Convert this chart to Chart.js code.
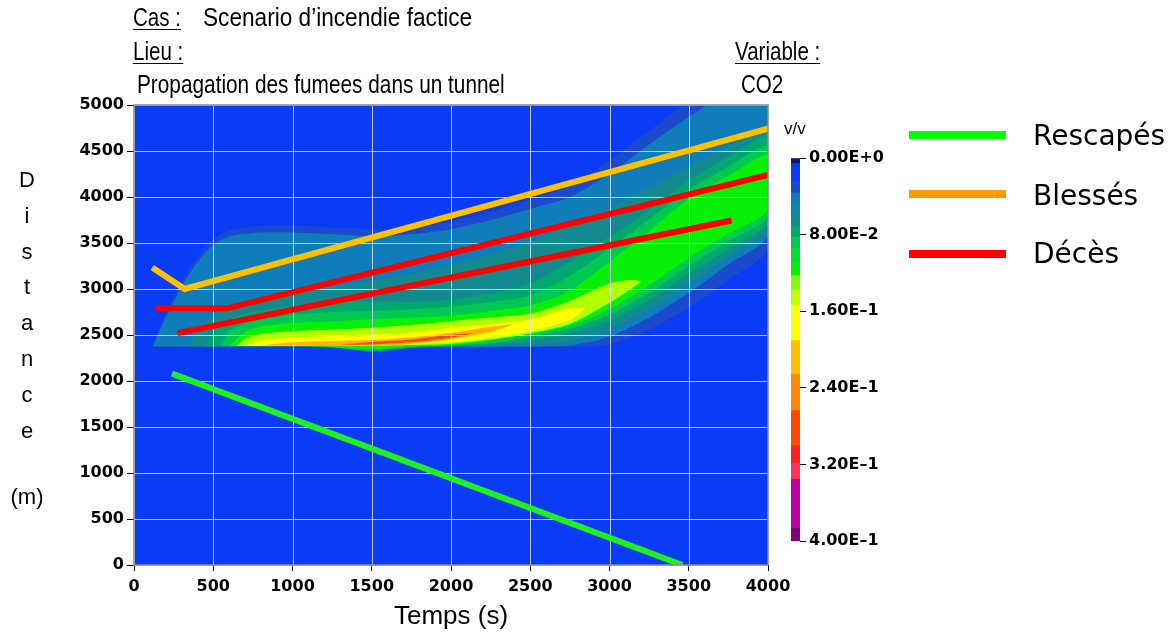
<!DOCTYPE html>
<html>
<head>
<meta charset="utf-8">
<script src="https://cdn.jsdelivr.net/npm/chart.js@4.4.1/dist/chart.umd.min.js"></script>
<style>
  html, body { margin: 0; padding: 0; background: #fff; }
  #page { position: relative; width: 1175px; height: 633px; overflow: hidden; color: #000; font-family: "Liberation Sans", Arial, sans-serif; }
  canvas { position: absolute; }
  .t { position: absolute; white-space: nowrap; }
  .head { font-size: 26px; line-height: 30px; transform-origin: 0 50%; transform: scaleX(0.79); }
  .u { text-decoration: underline; text-decoration-thickness: 1px; text-underline-offset: 3px; }
  .sw { position: absolute; left: 909px; width: 97px; height: 8px; }
  .leg { font-family: "DejaVu Sans", sans-serif; font-size: 28px; line-height: 34px; left: 1033px; }
</style>
</head>
<body>
<div id="page">
  <canvas id="main" width="1175" height="633" style="left:0;top:0"></canvas>
  <canvas id="bar" width="150" height="440" style="left:760px;top:120px"></canvas>

  <div class="t head u" style="left:133px;top:2px">Cas :</div>
  <div class="t head" style="left:203px;top:2px;transform:scaleX(0.87)">Scenario d’incendie factice</div>
  <div class="t head u" style="left:133px;top:36px">Lieu :</div>
  <div class="t head u" style="left:735px;top:36px">Variable :</div>
  <div class="t head" style="left:137px;top:69px;transform:scaleX(0.8)">Propagation des fumees dans un tunnel</div>
  <div class="t head" style="left:741px;top:69px">CO2</div>

  <div class="t" style="left:14px;top:162px;width:26px;text-align:center;font-size:22px;line-height:35.8px">D<br>i<br>s<br>t<br>a<br>n<br>c<br>e</div>
  <div class="t" style="left:5px;top:483px;width:44px;text-align:center;font-size:22px;line-height:28px">(m)</div>

  <div class="t" style="left:784px;top:118px;font-size:17px;line-height:22px">v/v</div>

  <div class="sw" style="top:131px;background:#00ff00"></div>
  <div class="sw" style="top:190px;background:#ff9900"></div>
  <div class="sw" style="top:250px;background:#ff0000"></div>
  <div class="t leg" style="top:119px">Rescapés</div>
  <div class="t leg" style="top:179px">Blessés</div>
  <div class="t leg" style="top:237px">Décès</div>
</div>
<script>
// trajectoires [temps (s), distance (m)]
const RESCAPES = [[240, 2080], [3460, 0]];
const BLESSES = [[115, 3235], [320, 3000], [4020, 4752]];
const DECES_1 = [[135, 2790], [588, 2790], [4000, 4240]];
const DECES_2 = [[275, 2520], [3770, 3745]];

// contours CO2 : [temps, distance basse, distance haute]
const BAND_DARK = [[110,2370,2370],[200,2370,2740],[300,2370,3080],[400,2370,3350],[500,2370,3540],[600,2370,3630],[700,2370,3670],[800,2370,3690],[1000,2370,3690],[1250,2370,3670],[1500,2370,3650],[1750,2370,3670],[2000,2370,3730],[2250,2370,3840],[2500,2370,3970],[2750,2370,4120],[3000,2400,4400],[3250,2560,4720],[3500,2800,5040],[3750,3100,5350],[4000,3450,5650]];
const BAND_STEEL = [[120,2375,2375],[200,2375,2690],[300,2375,3020],[400,2375,3290],[500,2375,3480],[600,2375,3570],[700,2375,3600],[800,2375,3615],[1000,2375,3615],[1250,2375,3595],[1500,2375,3575],[1750,2375,3595],[2000,2375,3650],[2250,2375,3750],[2500,2375,3870],[2750,2385,4000],[3000,2480,4250],[3250,2690,4570],[3500,2960,4870],[3750,3270,5150],[4000,3590,5450]];
const BAND_TEAL = [[350,2375,2375],[400,2375,2560],[500,2375,2700],[600,2375,2790],[700,2375,2850],[800,2375,2900],[1000,2375,2960],[1250,2370,3030],[1500,2320,3090],[1750,2360,3160],[2000,2375,3260],[2250,2375,3380],[2500,2390,3520],[2750,2430,3690],[3000,2560,3880],[3250,2780,4100],[3500,3060,4330],[3750,3350,4550],[4000,3660,4760]];
const BAND_GTEAL = [[450,2380,2380],[500,2380,2540],[600,2380,2660],[700,2380,2730],[800,2380,2770],[1000,2380,2810],[1250,2370,2860],[1500,2325,2870],[1750,2365,2860],[2000,2380,2880],[2250,2400,2950],[2500,2440,3060],[2750,2520,3300],[3000,2650,3570],[3250,2880,3860],[3500,3160,4180],[3750,3430,4440],[4000,3720,4650]];
const BAND_GREEN = [[550,2380,2380],[600,2380,2540],[700,2380,2620],[800,2380,2670],[1000,2380,2720],[1250,2365,2750],[1500,2335,2760],[1750,2370,2780],[2000,2385,2810],[2250,2410,2860],[2500,2480,2930],[2750,2570,3140],[3000,2720,3440],[3250,2960,3760],[3500,3250,4080],[3750,3520,4330],[4000,3790,4550]];
const BAND_BRIGHT = [[600,2380,2380],[700,2380,2530],[800,2380,2590],[1000,2380,2630],[1250,2370,2650],[1500,2345,2670],[1750,2375,2690],[2000,2390,2710],[2250,2440,2760],[2500,2510,2820],[2750,2600,2980],[3000,2780,3300],[3250,3040,3630],[3500,3340,3980],[3750,3600,4230],[4000,3860,4450]];
const BAND_YGREEN = [[650,2380,2380],[700,2380,2460],[800,2380,2510],[1000,2382,2540],[1250,2385,2560],[1500,2380,2580],[1750,2390,2610],[2000,2405,2650],[2250,2450,2690],[2500,2520,2730],[2750,2620,2870],[3000,2850,3060],[3150,3020,3100],[3200,3080,3080]];
const BAND_YELLOW = [[700,2380,2380],[800,2380,2440],[1000,2385,2470],[1250,2390,2490],[1500,2390,2510],[1750,2400,2530],[2000,2420,2580],[2250,2470,2620],[2500,2540,2670],[2750,2660,2790],[2850,2790,2790]];
const BAND_ORANGE = [[800,2385,2385],[1000,2385,2420],[1250,2382,2435],[1500,2380,2445],[1750,2405,2475],[2000,2455,2525],[2250,2535,2590],[2400,2620,2620]];
const BAND_RED = [[1300,2395,2395],[1500,2398,2425],[1750,2420,2450],[2000,2470,2505],[2150,2520,2520]];

// echelle de couleur v/v
const CB_EDGES = [0, 0.005, 0.024, 0.036, 0.048, 0.06, 0.07, 0.082, 0.094, 0.108, 0.122, 0.137, 0.153, 0.19, 0.225, 0.263, 0.3, 0.318, 0.335, 0.386, 0.4];
const CB_COLORS = ['#101870', '#0a3cf5', '#1b4bcc', '#0f7db9', '#0d86a8', '#138a8e', '#00a870', '#00c850', '#00e030', '#08f008', '#80ff00', '#c0ff00', '#ffff00', '#ffc000', '#ff8c00', '#ff4a00', '#ff2020', '#ff3050', '#c000a0', '#800080'];
const CB_TICKS = [0, 0.08, 0.16, 0.24, 0.32, 0.4];

const TICK_FONT = { family: 'DejaVu Sans', size: 16, weight: 'bold' };

const toXY = arr => arr.map(([x, y]) => ({ x, y }));
const polygon = band => band.map(([t, lo, hi]) => ({ x: t, y: hi }))
  .concat(band.slice().reverse().map(([t, lo]) => ({ x: t, y: lo })));

const bands = [
  [BAND_DARK, '#1b4bcc'],
  [BAND_STEEL, '#0f7db9'],
  [BAND_TEAL, '#138a8e'],
  [BAND_GTEAL, '#00a870'],
  [BAND_GREEN, '#00c850'],
  [BAND_BRIGHT, '#08f008'],
  [BAND_YGREEN, '#b0ff00'],
  [BAND_YELLOW, '#ffff00'],
  [BAND_ORANGE, '#ffb000'],
  [BAND_RED, '#e8501a']
];

const contourSets = bands.map(([band, color], i) => ({
  data: polygon(band),
  showLine: true,
  fill: 'shape',
  backgroundColor: color,
  borderColor: color,
  borderWidth: 0,
  tension: 0.25,
  order: 30 - i
}));

const pathSet = (data, color, order) => ({
  data: toXY(data),
  showLine: true,
  fill: false,
  borderColor: color,
  borderWidth: 6,
  tension: 0,
  isPath: true,
  order
});

// fond du graphe, grille par-dessus les contours, cadre
const plotDeco = {
  id: 'plotDeco',
  beforeDatasetsDraw(chart) {
    const { ctx, chartArea: a } = chart;
    chart.$gridDone = false;
    ctx.save();
    ctx.fillStyle = '#0a3cf5';
    ctx.fillRect(a.left, a.top, a.width, a.height);
    ctx.restore();
  },
  beforeDatasetDraw(chart, args) {
    if (chart.$gridDone || !chart.data.datasets[args.index].isPath) return;
    chart.$gridDone = true;
    const { ctx, chartArea: a, scales: { x, y } } = chart;
    ctx.save();
    ctx.strokeStyle = 'rgba(215,225,255,0.85)';
    ctx.lineWidth = 1;
    ctx.beginPath();
    x.ticks.forEach(t => {
      const px = Math.round(x.getPixelForValue(t.value)) + 0.5;
      ctx.moveTo(px, a.top); ctx.lineTo(px, a.bottom);
    });
    y.ticks.forEach(t => {
      const py = Math.round(y.getPixelForValue(t.value)) + 0.5;
      ctx.moveTo(a.left, py); ctx.lineTo(a.right, py);
    });
    ctx.stroke();
    ctx.restore();
  },
  afterDatasetsDraw(chart) {
    const { ctx, chartArea: a } = chart;
    ctx.save();
    ctx.strokeStyle = '#8a8a8a';
    ctx.lineWidth = 1.5;
    ctx.strokeRect(a.left, a.top, a.width, a.height);
    ctx.restore();
  }
};

new Chart(document.getElementById('main'), {
  type: 'scatter',
  data: {
    datasets: [
      pathSet(RESCAPES, '#20f020', 0),
      pathSet(BLESSES, '#ffc000', 1),
      pathSet(DECES_1, '#ff0000', 2),
      pathSet(DECES_2, '#ff0000', 3),
      ...contourSets
    ]
  },
  options: {
    responsive: false,
    animation: false,
    devicePixelRatio: 1,
    layout: { padding: { left: 0, top: 105, right: 407, bottom: 0 } },
    elements: { point: { radius: 0, hoverRadius: 0 } },
    plugins: { legend: { display: false }, tooltip: { enabled: false } },
    scales: {
      x: {
        type: 'linear', min: 0, max: 4000,
        afterFit: s => { s.height = 68; },
        ticks: { stepSize: 500, color: '#000', padding: 6, font: TICK_FONT, callback: v => String(v) },
        grid: { drawOnChartArea: false, drawTicks: true, tickLength: 6, color: '#000', tickColor: '#000' },
        border: { display: false },
        title: { display: true, text: 'Temps (s)', color: '#000', padding: { top: 0, bottom: 1 },
                 font: { family: 'Liberation Sans', size: 26 } }
      },
      y: {
        type: 'linear', min: 0, max: 5000,
        afterFit: s => { s.width = 134; },
        ticks: { stepSize: 500, color: '#000', padding: 3, font: TICK_FONT, callback: v => String(v) },
        grid: { drawOnChartArea: false, drawTicks: true, tickLength: 7, color: '#000', tickColor: '#000' },
        border: { display: false }
      }
    }
  },
  plugins: [plotDeco]
});

// barre de couleur
const fmtE = v => {
  const [m, e] = Number(v).toExponential(2).split('e');
  return m + 'E' + (e[0] === '-' ? '–' + e.slice(1) : e);
};

new Chart(document.getElementById('bar'), {
  type: 'bar',
  data: {
    labels: [''],
    datasets: CB_COLORS.map((c, i) => ({
      data: [CB_EDGES[i + 1] - CB_EDGES[i]],
      backgroundColor: c,
      borderWidth: 0,
      barPercentage: 1,
      categoryPercentage: 1,
      stack: 'cb'
    }))
  },
  options: {
    responsive: false,
    animation: false,
    devicePixelRatio: 1,
    layout: { padding: { top: 38, bottom: 19, left: 31, right: 0 } },
    plugins: { legend: { display: false }, tooltip: { enabled: false } },
    scales: {
      x: { display: false, stacked: true },
      y: {
        stacked: true, position: 'right', reverse: true, min: 0, max: 0.4,
        afterBuildTicks: s => { s.ticks = CB_TICKS.map(v => ({ value: v })); },
        afterFit: s => { s.width = 110; },
        ticks: { color: '#000', padding: 3, font: TICK_FONT, callback: v => fmtE(v) },
        grid: { drawOnChartArea: false, tickLength: 6, color: '#000', tickColor: '#000' },
        border: { display: false }
      }
    }
  }
});
</script>
</body>
</html>
